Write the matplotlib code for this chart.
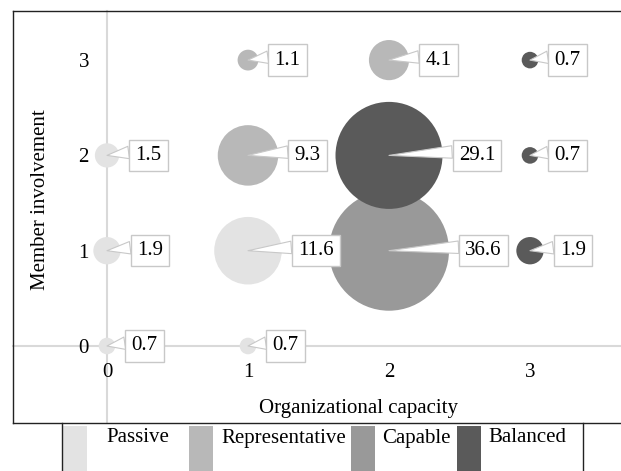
import numpy as np
import matplotlib.pyplot as plt
from matplotlib.patches import Rectangle
from matplotlib.lines import Line2D

plt.rcParams['font.family'] = ['Liberation Serif', 'DejaVu Serif']
plt.rcParams['font.size'] = 15

# data
groups = ["Passive", "Representative", "Capable", "Balanced"]
colors = ["#e3e3e3", "#b8b8b8", "#999999", "#5a5a5a"]
passive_x = [0, 1, 0, 0, 1]
passive_y = [0, 0, 1, 2, 1]
passive_v = [0.7, 0.7, 1.9, 1.5, 11.6]
repr_x = [1, 1, 2]
repr_y = [2, 3, 3]
repr_v = [9.3, 1.1, 4.1]
capable_x = [2]
capable_y = [1]
capable_v = [36.6]
balanced_x = [2, 3, 3, 3]
balanced_y = [2, 3, 2, 1]
balanced_v = [29.1, 0.7, 0.7, 1.9]

series = [(passive_x, passive_y, passive_v),
          (repr_x, repr_y, repr_v),
          (capable_x, capable_y, capable_v),
          (balanced_x, balanced_y, balanced_v)]

W, H = 621, 471
fig = plt.figure(figsize=(W / 100, H / 100), dpi=100)

# plot area in pixels: left 13, top 11, bottom 423, running off the right edge
left, top, bottom = 13, 11, 423
ax = fig.add_axes([left / W, (H - bottom) / H, 1 - left / W + 0.05, (bottom - top) / H])
x0px, xunit = 107, 141.0
y0px, yunit = 346, 95.3
right = W + 0.05 * W
ax.set_xlim((left - x0px) / xunit, (right - x0px) / xunit)
ax.set_ylim((y0px - bottom) / yunit, (y0px - top) / yunit)

k = 204  # points^2 per unit of value
for (xs, ys, vs), c in zip(series, colors):
    ax.scatter(xs, ys, s=np.array(vs) * k, color=c, edgecolors='none', zorder=3)

for xs, ys, vs in series:
    for x, y, v in zip(xs, ys, vs):
        r_px = np.sqrt(v * k) / 0.72 / 2
        off = (r_px + 10) * 0.72 + 4.5
        ax.annotate(f"{v}", xy=(x, y), xytext=(off, 0), textcoords='offset points',
                    ha='left', va='center', zorder=5,
                    bbox=dict(boxstyle='square,pad=0.3', fc='white', ec='#c8c8c8', lw=1),
                    arrowprops=dict(arrowstyle='wedge,tail_width=0.6', fc='white',
                                    ec='#c8c8c8', lw=0.8, shrinkA=0, shrinkB=0,
                                    relpos=(0, 0.7)))

for side in ['top', 'right']:
    ax.spines[side].set_visible(False)
ax.spines['left'].set_position(('data', 0))
ax.spines['bottom'].set_position(('data', 0))
for side in ['left', 'bottom']:
    ax.spines[side].set_color('#d9d9d9')
    ax.spines[side].set_linewidth(1.5)
    ax.spines[side].set_zorder(1)
ax.set_xticks([0, 1, 2, 3])
ax.set_yticks([0, 1, 2, 3])
ax.tick_params(axis='x', length=0, pad=12)
ax.tick_params(axis='y', length=0, pad=13)
ax.patch.set_alpha(0)

ax.set_xlabel("Organizational capacity", va='center')
ax.xaxis.set_label_coords((358 - left) / (right - left), (bottom - 409) / (bottom - top))
ax.set_ylabel("Member involvement", va='center')
ax.yaxis.set_label_coords((41 - left) / (right - left), (bottom - 200) / (bottom - top))

def fx(px):
    return px / W

def fy(py):
    return (H - py) / H

# chart frame
fig.add_artist(Line2D([fx(left), fx(left)], [fy(top), fy(bottom)], color='#222222', lw=1))
fig.add_artist(Line2D([fx(left), 1], [fy(top), fy(top)], color='#222222', lw=1))
fig.add_artist(Line2D([fx(left), 1], [fy(bottom), fy(bottom)], color='#222222', lw=1))

# legend strip below the frame (cropped at bottom)
fig.add_artist(Line2D([fx(62), fx(62)], [fy(bottom), 0], color='#222222', lw=1))
fig.add_artist(Line2D([fx(583), fx(583)], [fy(bottom), 0], color='#222222', lw=1))
patch_x = [63, 189, 351, 457]
text_x = [106, 221, 382, 488]
for g, c, px, tx in zip(groups, colors, patch_x, text_x):
    fig.add_artist(Rectangle((fx(px), 0), 24 / W, fy(426), transform=fig.transFigure,
                             fc=c, ec='none'))
    fig.text(fx(tx), fy(438), g, ha='left', va='center')

fig.savefig("out.png", dpi=100)
